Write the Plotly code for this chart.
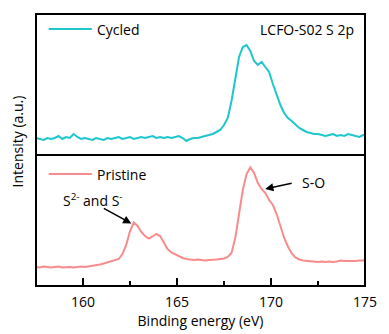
import numpy as np
import plotly.graph_objects as go

# Binding energy grid (eV), 0.2 eV steps
energy = np.round(157.5 + 0.2 * np.arange(89), 2)

# S 2p intensity, cycled electrode (a.u.)
cycled = [
    17, 16, 15, 17, 16, 17, 19, 16, 18, 17,
    21, 18, 16, 17, 16, 15, 17, 16, 15, 17,
    16, 17, 18, 16, 17, 18, 16, 17, 18, 17,
    18, 19, 17, 18, 17, 18, 17, 18, 19, 17,
    14, 16, 17, 17, 18, 19, 20, 21, 23, 25,
    30, 37, 54, 75, 98, 108, 110, 104, 94, 90,
    93, 88, 83, 71, 60, 50, 42, 37, 34, 30,
    27, 25, 23, 22, 21, 21, 20, 19, 20, 21,
    19, 20, 19, 21, 20, 19, 18, 20, 19,
]

# S 2p intensity, pristine electrode (a.u.)
pristine = [
    19, 18.5, 19.5, 19, 18.5, 19, 19.5, 18.5, 19, 19,
    18.5, 19, 19.5, 19, 19.5, 20, 20.5, 21.5, 22.5, 23.5,
    24.5, 25.5, 27, 32, 41, 55, 63.5, 60, 54, 50,
    47.5, 49.5, 52, 50, 43, 37, 33.5, 31.5, 30, 28,
    27, 26.5, 26, 26.5, 26, 25.5, 26, 26, 26.5, 27,
    27.5, 29, 33, 48, 71, 96, 112, 118.5, 113, 103,
    97, 93, 86, 81, 72, 60, 48, 39.5, 32.5, 28.5,
    26.5, 25.5, 25, 24.5, 24.5, 24, 24.5, 24, 24.5, 24,
    24.5, 25.5, 25, 25, 24.5, 25, 25.5, 25.5, 25.5,
]

x_ticks = [160, 165, 170, 175]
series_names = ["Cycled", "Pristine"]
title_text = "LCFO-S02 S 2p"

teal = "#1fc6cb"
pink = "#f88c8c"
font = "Open Sans"
plot_w, plot_h = 336, 272
split = 131 / plot_h  # boundary between the two stacked panels


def px(x):
    """Horizontal pixel offset inside the plot area -> paper fraction."""
    return (x - 36) / plot_w


def py(y):
    """Vertical pixel position in the figure -> paper fraction."""
    return (286 - y) / plot_h


fig = go.Figure()
fig.add_trace(go.Scatter(x=energy, y=cycled, mode="lines", yaxis="y2",
                         line=dict(color=teal, width=2), name=series_names[0],
                         showlegend=False))
fig.add_trace(go.Scatter(x=energy, y=pristine, mode="lines", yaxis="y",
                         line=dict(color=pink, width=2), name=series_names[1],
                         showlegend=False))

fig.update_layout(
    width=389, height=334,
    margin=dict(l=36, r=17, t=14, b=48),
    paper_bgcolor="white", plot_bgcolor="white",
    font=dict(family=font, size=14, color="black"),
    xaxis=dict(range=[157.5, 175], tickvals=x_ticks, ticks="inside",
               ticklen=8, tickwidth=1.5, tickcolor="black",
               ticklabelstandoff=6,
               minor=dict(tickvals=[162.5, 167.5, 172.5], ticks="inside",
                          ticklen=5, tickwidth=1.5, tickcolor="black"),
               showgrid=False, zeroline=False, showline=False,
               tickfont=dict(size=14, family=font),
               title=dict(text="Binding energy (eV)", standoff=0,
                          font=dict(size=14, family=font))),
    yaxis=dict(domain=[0, split], range=[0, 131], showticklabels=False,
               ticks="", showgrid=False, zeroline=False, showline=False),
    yaxis2=dict(domain=[split, 1], range=[0, 141], showticklabels=False,
                ticks="", showgrid=False, zeroline=False, showline=False,
                anchor="x"),
)

# Frame and panel divider
fig.add_shape(type="rect", xref="paper", yref="paper", x0=0, x1=1, y0=0, y1=1,
              line=dict(color="black", width=2))
fig.add_shape(type="line", xref="paper", yref="paper", x0=0, x1=1,
              y0=split, y1=split, line=dict(color="black", width=2))

# Legend-style keys
for name, color, ypix in [(series_names[0], teal, 29),
                          (series_names[1], pink, 174)]:
    fig.add_shape(type="line", xref="paper", yref="paper",
                  x0=px(49), x1=px(93), y0=py(ypix), y1=py(ypix),
                  line=dict(color=color, width=2))
    fig.add_annotation(xref="paper", yref="paper", x=px(96), y=py(ypix),
                       text=name, showarrow=False, xanchor="left",
                       yanchor="middle", font=dict(size=14))

fig.add_annotation(xref="paper", yref="paper", x=px(363), y=py(29),
                   text=title_text, showarrow=False, xanchor="right",
                   yanchor="middle", font=dict(size=14))

# Y axis title
fig.add_annotation(xref="paper", yref="paper", x=px(17), y=py(141),
                   text="Intensity (a.u.)", showarrow=False, textangle=-90,
                   xanchor="center", yanchor="middle", font=dict(size=14))

# Peak assignments
fig.add_annotation(x=162.57, y=62.5, xref="x", yref="y", ax=-29, ay=-16,
                   text="", showarrow=True, arrowhead=2, arrowsize=1.1,
                   arrowwidth=1.5, arrowcolor="black")
fig.add_annotation(x=px(94), y=py(200), xref="paper", yref="paper",
                   text="S<sup>2-</sup> and S<sup>-</sup>", showarrow=False,
                   xanchor="center", yanchor="middle", font=dict(size=14))
fig.add_annotation(x=169.69, y=97, xref="x", yref="y", ax=28, ay=-6,
                   text="", showarrow=True, arrowhead=2, arrowsize=1.1,
                   arrowwidth=1.5, arrowcolor="black")
fig.add_annotation(x=px(306), y=py(182), xref="paper", yref="paper",
                   text="S-O", showarrow=False, xanchor="left",
                   yanchor="middle", font=dict(size=14))

fig.write_html("out.html")
